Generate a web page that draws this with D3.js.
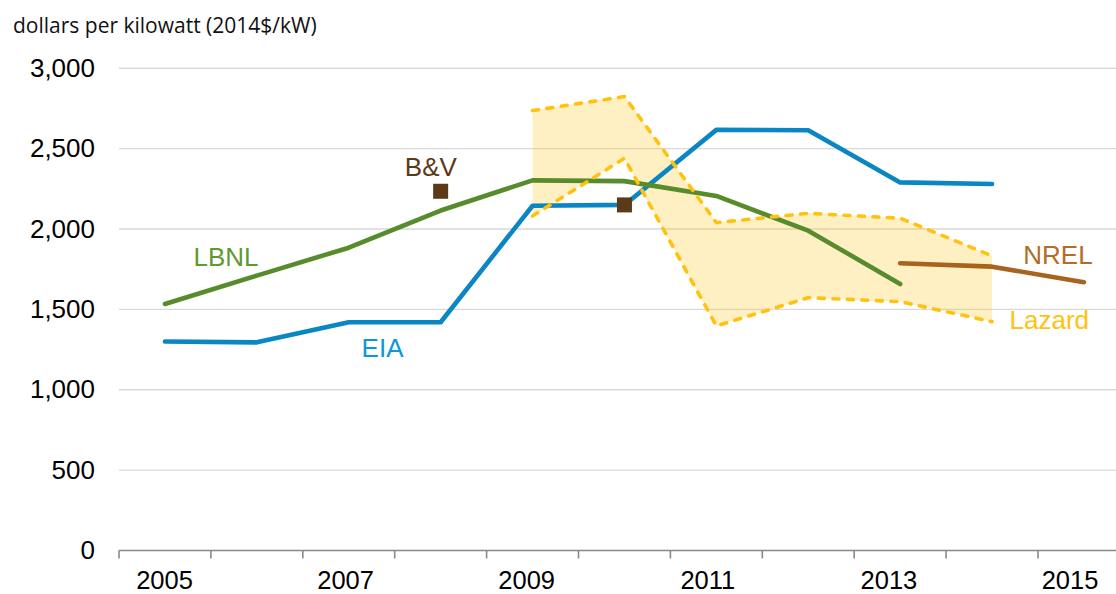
<!DOCTYPE html>
<html>
<head>
<meta charset="utf-8">
<script src="https://cdn.jsdelivr.net/npm/d3@7"></script>
<style>
  body { margin: 0; background: #fff; }
  text { font-family: "Liberation Sans", Arial, sans-serif; }
</style>
</head>
<body>
<svg id="chart" width="1116" height="594"></svg>
<script>
const years = [2005, 2006, 2007, 2008, 2009, 2010, 2011, 2012, 2013, 2014, 2015];
const yTicks = [0, 500, 1000, 1500, 2000, 2500, 3000];
const xLabels = [2005, 2007, 2009, 2011, 2013, 2015];

const eia = [1300, 1295, 1420, 1420, 2145, 2150, 2617, 2615, 2290, 2280, null];
const lbnl = [1534, 1710, 1884, 2115, 2303, 2298, 2206, 1990, 1658, null, null];
const lazardHigh = [null, null, null, null, 2737, 2824, 2040, 2098, 2067, 1833, null];
const lazardLow = [null, null, null, null, 2081, 2440, 1397, 1573, 1548, 1424, null];
const nrel = [null, null, null, null, null, null, null, null, 1787, 1766, 1669];
const bvYears = [2008, 2010];
const bvValues = [2235, 2150];

// series labels placed in data units (year, value)
const seriesLabels = [
  {text: "LBNL", year: 2005.31, value: 1770, color: "#5E9A31"},
  {text: "EIA", year: 2007.14, value: 1205, color: "#0A98D6"},
  {text: "B&V", year: 2007.61, value: 2330, color: "#5C3A17"},
  {text: "NREL", year: 2014.34, value: 1780, color: "#B36D29"},
  {text: "Lazard", year: 2014.19, value: 1381, color: "#FFC20E"}
];

const svg = d3.select("#chart");

const x = d3.scaleBand()
  .domain(years)
  .range([119, 119 + 11 * 91.9]);
const cx = d => x(d) + x.bandwidth() / 2;

const y = d3.scaleLinear()
  .domain([0, 3000])
  .range([550.5, 68.3]);

// year labels sit a little left of the band centres toward the right
const labelX = d3.scaleLinear()
  .domain([2005, 2015])
  .range([164.5, 1070]);
// continuous version of the band centres, for annotations
const yearX = d3.scaleLinear()
  .domain([2005, 2015])
  .range([cx(2005), cx(2015)]);

// gridlines
svg.append("g").selectAll("line")
  .data(yTicks.filter(d => d > 0))
  .join("line")
  .attr("x1", 119)
  .attr("x2", 1116)
  .attr("y1", d => y(d))
  .attr("y2", d => y(d))
  .attr("stroke", "#d9d9d9")
  .attr("stroke-width", 1.4);

// y tick labels
svg.append("g").selectAll("text")
  .data(yTicks)
  .join("text")
  .attr("x", 95)
  .attr("y", d => y(d) + 8.5)
  .attr("text-anchor", "end")
  .attr("font-size", 26)
  .attr("fill", "#000")
  .text(d => d3.format(",")(d));

// title
svg.append("text")
  .attr("x", 13)
  .attr("y", 33)
  .attr("font-size", 21)
  .style("font-family", "'Open Sans', sans-serif")
  .attr("fill", "#111")
  .text("dollars per kilowatt (2014$/kW)");

// Lazard band
const band = years.map((yr, i) => ({yr, lo: lazardLow[i], hi: lazardHigh[i]}))
  .filter(d => d.lo != null);
svg.append("path")
  .datum(band)
  .attr("d", d3.area().x(d => cx(d.yr)).y0(d => y(d.lo)).y1(d => y(d.hi)))
  .attr("fill", "#FFC20E")
  .attr("fill-opacity", 0.25);

// x axis
const axisY = y(0);
svg.append("line")
  .attr("x1", 119).attr("x2", 1116)
  .attr("y1", axisY).attr("y2", axisY)
  .attr("stroke", "#8a8a8a")
  .attr("stroke-width", 1.6);
svg.append("g").selectAll("line")
  .data(years)
  .join("line")
  .attr("x1", d => x(d)).attr("x2", d => x(d))
  .attr("y1", axisY).attr("y2", axisY + 8)
  .attr("stroke", "#8a8a8a")
  .attr("stroke-width", 1.6);
svg.append("g").selectAll("text")
  .data(xLabels)
  .join("text")
  .attr("x", d => labelX(d))
  .attr("y", 589)
  .attr("text-anchor", "middle")
  .attr("font-size", 25.5)
  .attr("fill", "#000")
  .text(d => d);

const line = d3.line()
  .defined(d => d.v != null)
  .x(d => cx(d.yr))
  .y(d => y(d.v));
const pts = arr => years.map((yr, i) => ({yr, v: arr[i]}));

function drawLine(arr, color, dashed) {
  const p = svg.append("path")
    .datum(pts(arr))
    .attr("d", line)
    .attr("fill", "none")
    .attr("stroke", color)
    .attr("stroke-width", dashed ? 3.6 : 4.6)
    .attr("stroke-linecap", "round")
    .attr("stroke-linejoin", "round");
  if (dashed) p.attr("stroke-dasharray", "6,8.5");
}

drawLine(eia, "#0A86C3", false);
drawLine(lbnl, "#578B2B", false);
drawLine(lazardHigh, "#FFC20E", true);
drawLine(lazardLow, "#FFC20E", true);
drawLine(nrel, "#A8631F", false);

// B&V squares
svg.append("g").selectAll("rect")
  .data(bvYears.map((yr, i) => ({yr, v: bvValues[i]})))
  .join("rect")
  .attr("x", d => cx(d.yr) - 7.5)
  .attr("y", d => y(d.v) - 7.5)
  .attr("width", 15)
  .attr("height", 15)
  .attr("fill", "#5C3A17");

// series labels
svg.append("g").selectAll("text")
  .data(seriesLabels)
  .join("text")
  .attr("x", d => yearX(d.year))
  .attr("y", d => y(d.value))
  .attr("font-size", 26)
  .attr("fill", d => d.color)
  .text(d => d.text);
</script>
</body>
</html>
